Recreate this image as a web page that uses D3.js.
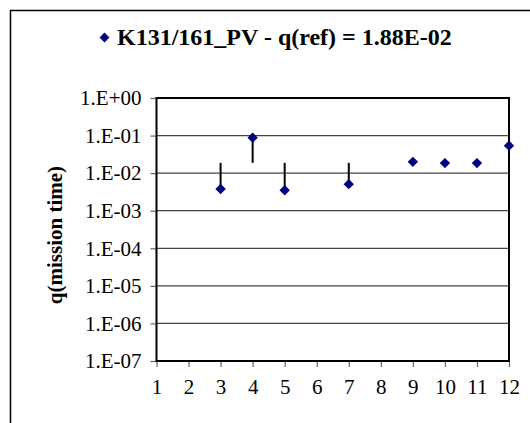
<!DOCTYPE html>
<html>
<head>
<meta charset="utf-8">
<script src="https://cdn.jsdelivr.net/npm/d3@7"></script>
<style>
  html, body { margin: 0; padding: 0; background: #fff; }
  #wrap { width: 530px; height: 423px; position: relative; overflow: hidden; }
  #title { position: absolute; left: 96px; top: 22px; font-family: 'Liberation Serif'; font-weight: bold; font-size: 24px; line-height: 30px; white-space: nowrap; color: #000; }
  #title .mk { display: inline-block; width: 7px; height: 7px; background: #000080; transform: rotate(45deg); margin: 0 9px 4px 5px; vertical-align: middle; }
  svg { position: absolute; left: 0; top: 0; }
</style>
</head>
<body>
<div id="wrap"><div id="title"></div></div>
<script>
const seriesName = "K131/161_PV - q(ref) = 1.88E-02";
const refValue = 1.88e-2;
const xValues = [3, 4, 5, 7, 9, 10, 11, 12];
const qValues = [3.8e-3, 8.8e-2, 3.5e-3, 5.1e-3, 2.0e-2, 1.85e-2, 1.85e-2, 5.4e-2];
const xTicks = [1, 2, 3, 4, 5, 6, 7, 8, 9, 10, 11, 12];
const yTicks = [1e0, 1e-1, 1e-2, 1e-3, 1e-4, 1e-5, 1e-6, 1e-7];
const yTickLabels = ["1.E+00", "1.E-01", "1.E-02", "1.E-03", "1.E-04", "1.E-05", "1.E-06", "1.E-07"];
const yTitle = "q(mission time)";

const FONT = "Liberation Serif";

d3.select("#title").html("").call(t => {
  t.append("span").attr("class", "mk");
  t.append("span").text(seriesName);
});

const svg = d3.select("#wrap").append("svg").attr("width", 530).attr("height", 423);
const plot = { left: 156.5, right: 509, top: 98, bottom: 361 };

// outer chart border
svg.append("rect").attr("x", 10.5).attr("y", 10.5).attr("width", 540).attr("height", 440)
  .attr("fill", "none").attr("stroke", "#000").attr("stroke-width", 1.5);

const x = d3.scaleLinear().domain([1, 12]).range([plot.left, plot.right]);
const y = d3.scaleLog().domain([1e-7, 1]).range([plot.bottom, plot.top]);

// gridlines
svg.append("g").selectAll("line").data(yTicks.slice(1, -1)).join("line")
  .attr("x1", plot.left).attr("x2", plot.right)
  .attr("y1", d => y(d)).attr("y2", d => y(d))
  .attr("stroke", "#444").attr("stroke-width", 1.2);

// y axis
const yAxis = d3.axisLeft(y).tickValues(yTicks).tickSize(6).tickPadding(9)
  .tickFormat((d, i) => yTickLabels[i]);
const gy = svg.append("g").attr("transform", `translate(${plot.left},0)`).call(yAxis);
gy.attr("font-family", FONT).attr("font-size", 21);
gy.select(".domain").remove();
gy.selectAll(".tick line").attr("stroke", "#666").attr("stroke-width", 1.2);
gy.selectAll(".tick text").attr("font-family", FONT).attr("font-size", 21).attr("fill", "#000");

// x axis
const xAxis = d3.axisBottom(x).tickValues(xTicks).tickSize(6).tickPadding(12).tickFormat(d3.format("d"));
const gx = svg.append("g").attr("transform", `translate(0,${plot.bottom})`).call(xAxis);
gx.attr("font-family", FONT).attr("font-size", 21);
gx.select(".domain").remove();
gx.selectAll(".tick line").attr("stroke", "#666").attr("stroke-width", 1.2);
gx.selectAll(".tick text").attr("font-family", FONT).attr("font-size", 21).attr("fill", "#000");

// plot border
svg.append("rect").attr("x", plot.left).attr("y", plot.top)
  .attr("width", plot.right - plot.left).attr("height", plot.bottom - plot.top)
  .attr("fill", "none").attr("stroke", "#000").attr("stroke-width", 2);

// error bars (to reference)
svg.append("g").selectAll("line").data(xValues).join("line")
  .attr("x1", d => x(d)).attr("x2", d => x(d))
  .attr("y1", (d, i) => y(qValues[i])).attr("y2", y(refValue))
  .attr("stroke", "#000").attr("stroke-width", 2);

// markers
svg.append("g").selectAll("path").data(xValues).join("path")
  .attr("d", d3.symbol().type(d3.symbolSquare).size(54))
  .attr("transform", (d, i) => `translate(${x(d)},${y(qValues[i])}) rotate(45)`)
  .attr("fill", "#000080");

// y title
svg.append("text").attr("transform", "translate(62,235) rotate(-90)")
  .attr("text-anchor", "middle").attr("font-size", 21).attr("font-weight", "bold")
  .attr("font-family", FONT).attr("fill", "#000")
  .text(yTitle);
</script>
</body>
</html>
